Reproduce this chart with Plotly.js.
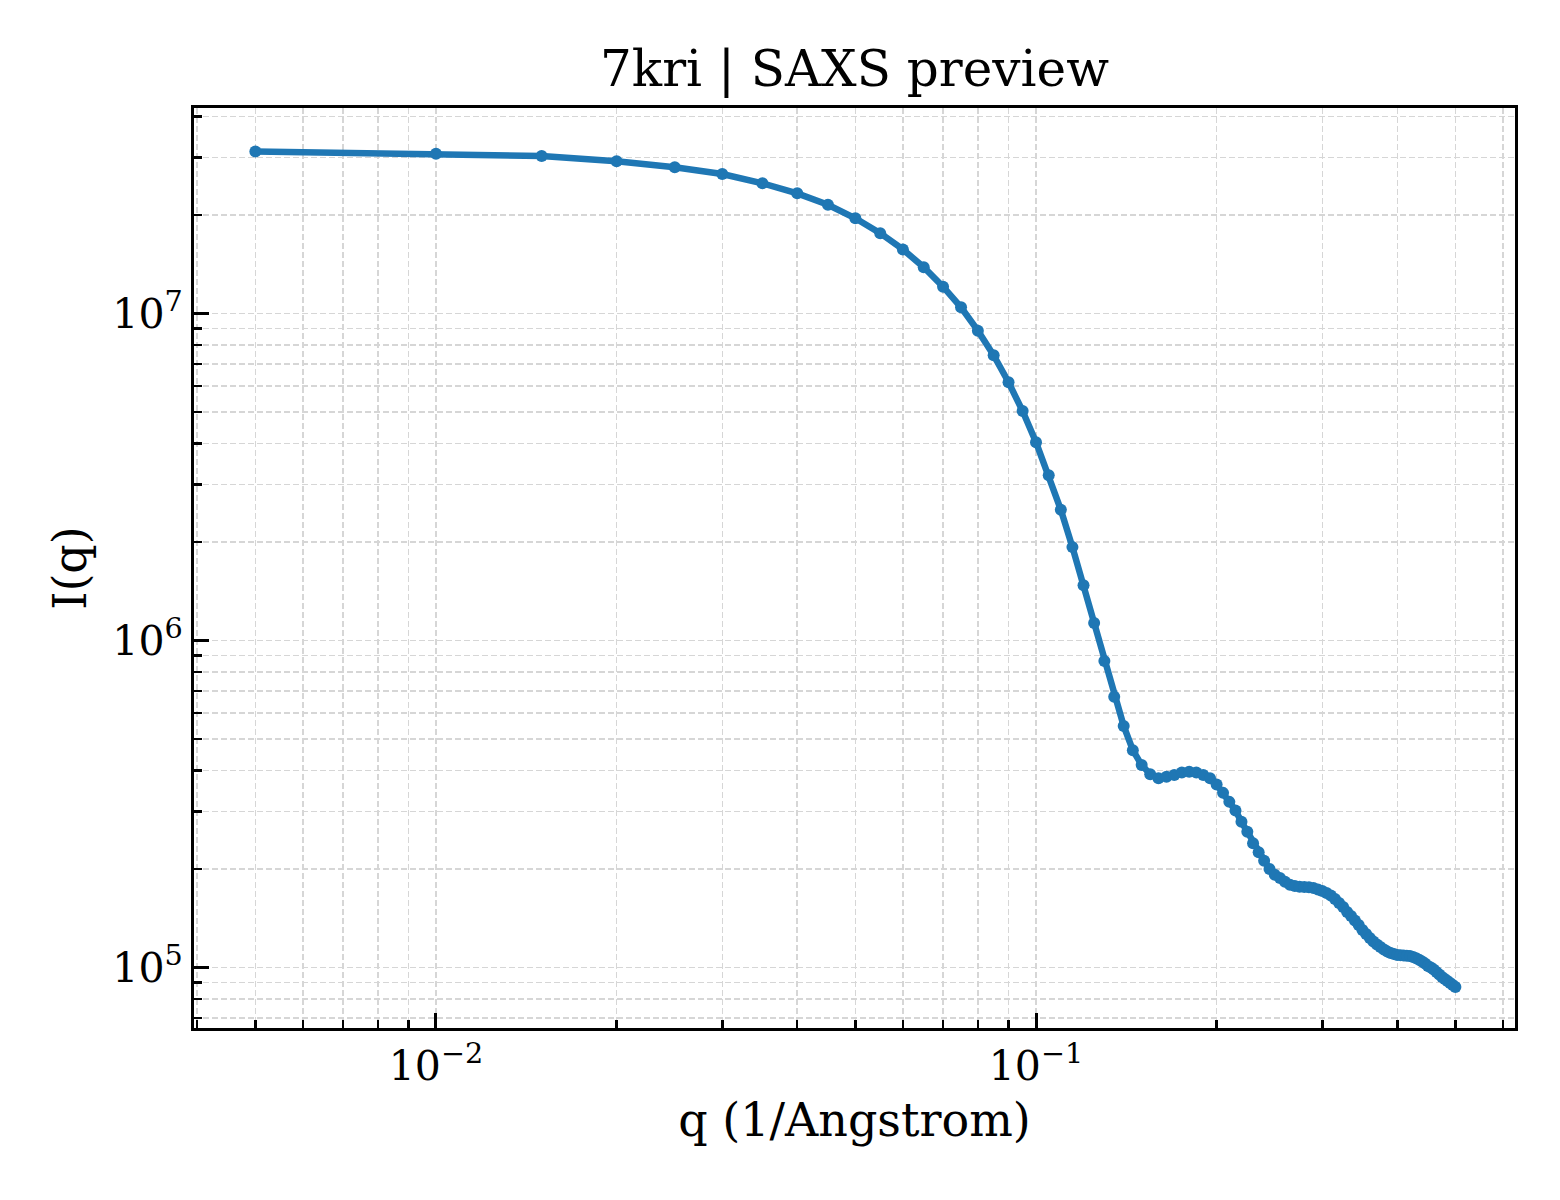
<!DOCTYPE html>
<html>
<head>
<meta charset="utf-8">
<script src="https://cdn.plot.ly/plotly-3.0.1.min.js"></script>
<style>
  html, body { margin: 0; padding: 0; background: #fff; }
  #saxsChart { width: 1560px; height: 1200px; }
</style>
</head>
<body>
<div id="saxsChart"></div>
<script>
// scattering vector, 1/Angstrom
const q = [
  0.005, 0.010, 0.015, 0.020, 0.025, 0.030, 0.035, 0.040, 0.045, 0.050,
  0.055, 0.060, 0.065, 0.070, 0.075, 0.080, 0.085, 0.090, 0.095, 0.100,
  0.105, 0.110, 0.115, 0.120, 0.125, 0.130, 0.135, 0.140, 0.145, 0.150,
  0.155, 0.160, 0.165, 0.170, 0.175, 0.180, 0.185, 0.190, 0.195, 0.200,
  0.205, 0.210, 0.215, 0.220, 0.225, 0.230, 0.235, 0.240, 0.245, 0.250,
  0.255, 0.260, 0.265, 0.270, 0.275, 0.280, 0.285, 0.290, 0.295, 0.300,
  0.305, 0.310, 0.315, 0.320, 0.325, 0.330, 0.335, 0.340, 0.345, 0.350,
  0.355, 0.360, 0.365, 0.370, 0.375, 0.380, 0.385, 0.390, 0.395, 0.400,
  0.405, 0.410, 0.415, 0.420, 0.425, 0.430, 0.435, 0.440, 0.445, 0.450,
  0.455, 0.460, 0.465, 0.470, 0.475, 0.480, 0.485, 0.490, 0.495, 0.500
];

// I(q)
const intensity = [
  3.13e7, 3.08e7, 3.03e7, 2.92e7, 2.80e7, 2.67e7, 2.50e7, 2.33e7, 2.15e7, 1.955e7,
  1.76e7, 1.57e7, 1.385e7, 1.208e7, 1.045e7, 8.86e6, 7.45e6, 6.16e6, 5.03e6, 4.04e6,
  3.20e6, 2.51e6, 1.93e6, 1.475e6, 1.131e6, 8.65e5, 6.73e5, 5.48e5, 4.62e5, 4.16e5,
  3.90e5, 3.79e5, 3.83e5, 3.88e5, 3.95e5, 3.97e5, 3.95e5, 3.88e5, 3.79e5, 3.63e5,
  3.42e5, 3.21e5, 3.02e5, 2.79e5, 2.60e5, 2.40e5, 2.25e5, 2.12e5, 2.00e5, 1.92e5,
  1.878e5, 1.83e5, 1.79e5, 1.775e5, 1.766e5, 1.763e5, 1.759e5, 1.750e5, 1.732e5, 1.714e5,
  1.690e5, 1.661e5, 1.620e5, 1.575e5, 1.531e5, 1.478e5, 1.437e5, 1.392e5, 1.349e5, 1.302e5,
  1.266e5, 1.231e5, 1.201e5, 1.176e5, 1.156e5, 1.135e5, 1.119e5, 1.107e5, 1.100e5, 1.092e5,
  1.091e5, 1.088e5, 1.087e5, 1.084e5, 1.077e5, 1.067e5, 1.056e5, 1.043e5, 1.028e5, 1.011e5,
  1.000e5, 9.86e4, 9.69e4, 9.52e4, 9.35e4, 9.22e4, 9.09e4, 8.97e4, 8.84e4, 8.72e4
];

const xTickVals = [0.01, 0.1];
const xTickText = ["10<sup>\u22122</sup>", "10<sup>\u22121</sup>"];
const yTickVals = [1e5, 1e6, 1e7];
const yTickText = ["10<sup>5</sup>", "10<sup>6</sup>", "10<sup>7</sup>"];

function logMinors(fromExp, toExp) {
    let vals = [];
    for (let e = fromExp; e <= toExp; e++)
        for (let k = 2; k <= 9; k++)
            vals.push(k * Math.pow(10, e));
    return vals;
}

let gridColor = "#d6d6d6";
let gridDash = "6px,3px";

function makeAxis(tickVals, tickText, minorVals, range, titleText, standoff) {
    return {
        type: "log",
        range: range,
        showline: true,
        mirror: true,
        linewidth: 3,
        linecolor: "black",
        zeroline: false,
        ticks: "inside",
        ticklen: 15,
        tickwidth: 3,
        tickcolor: "black",
        tickmode: "array",
        tickvals: tickVals,
        ticktext: tickText,
        tickfont: { size: 41, color: "black" },
        showgrid: true,
        gridcolor: gridColor,
        gridwidth: 1.5,
        griddash: gridDash,
        minor: {
            tickmode: "array",
            tickvals: minorVals,
            ticks: "inside",
            ticklen: 8,
            tickwidth: 2.5,
            tickcolor: "black",
            showgrid: true,
            gridcolor: gridColor,
            gridwidth: 1.5,
            griddash: gridDash
        },
        title: { text: titleText, font: { size: 46, color: "black" }, standoff: standoff },
        automargin: false
    };
}

let trace = {
    x: q,
    y: intensity,
    type: "scatter",
    mode: "lines+markers",
    line: { color: "#1f77b4", width: 6.5 },
    marker: { color: "#1f77b4", size: 12 },
    showlegend: false
};

let layout = {
    width: 1560,
    height: 1200,
    margin: { l: 194, r: 45, t: 108, b: 172 },
    paper_bgcolor: "white",
    plot_bgcolor: "white",
    font: { family: "DejaVu Serif, serif", color: "black" },
    title: {
        text: "7kri | SAXS preview",
        font: { size: 50, color: "black" },
        x: 0.5, xref: "paper", xanchor: "center",
        y: 1 - 68 / 1200, yref: "container", yanchor: "middle"
    },
    xaxis: makeAxis(xTickVals, xTickText, logMinors(-3, -1).filter(v => v < 0.7),
                    [-2.4033, -0.2017], "q (1/Angstrom)", 15),
    yaxis: makeAxis(yTickVals, yTickText, logMinors(4, 7).filter(v => v > 6e4 && v < 4.5e7),
                    [4.815, 7.6284], "I(q)", 12)
};

Plotly.newPlot("saxsChart", [trace], layout, { displayModeBar: false, staticPlot: true });
</script>
</body>
</html>
